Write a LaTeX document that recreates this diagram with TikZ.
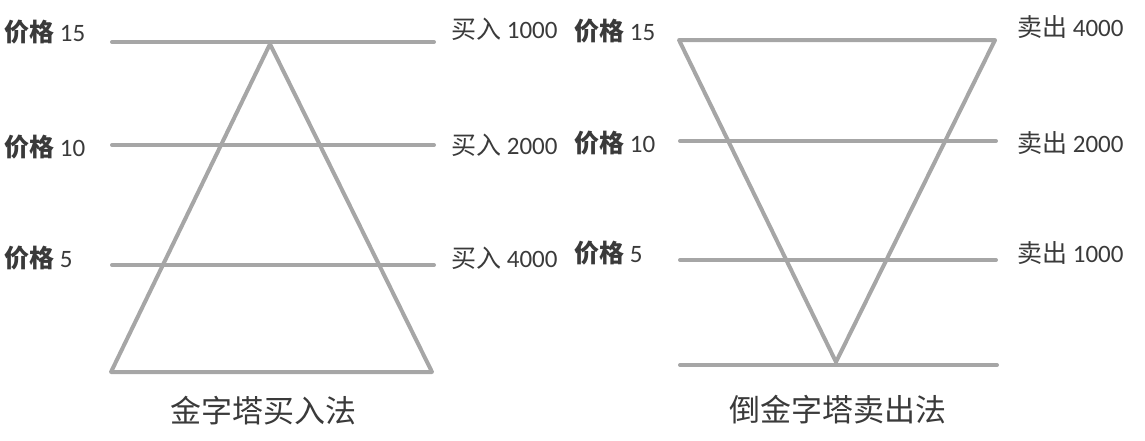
\documentclass[tikz,border=0pt]{standalone}
\usepackage{fontspec}
\setmainfont{Carlito}
\newfontfamily\cjk{Noto Sans CJK SC}
\definecolor{linegray}{RGB}{166,166,166}
\definecolor{txtgray}{RGB}{58,58,58}
\tikzset{
  bar/.style={draw=linegray, line width=4pt, line cap=round, line join=miter},
  lbl/.style={anchor=west, inner sep=0pt, text=txtgray, font=\fontsize{25}{28}\selectfont},
  captiontext/.style={anchor=center, inner sep=0pt, text=txtgray, font=\fontsize{31}{35}\selectfont\cjk},
}
\newcommand{\price}[1]{{\cjk\bfseries 价格}\ #1}
\newcommand{\buy}[1]{{\cjk 买入}\ #1}
\newcommand{\sell}[1]{{\cjk 卖出}\ #1}
\begin{document}
\begin{tikzpicture}[x=1pt,y=-1pt]
\useasboundingbox (0,0) rectangle (1145,440);
% left pyramid
\coordinate (LA) at (270,44);
\coordinate (LBL) at (111,372);
\coordinate (LBR) at (432,372);
\coordinate (L15a) at (112,42); \coordinate (L15b) at (434,42);
\coordinate (L10a) at (112,145); \coordinate (L10b) at (434,145);
\coordinate (L5a) at (112,265); \coordinate (L5b) at (434,265);
\draw[bar] (L15a) -- (L15b);
\draw[bar] (L10a) -- (L10b);
\draw[bar] (L5a) -- (L5b);
\draw[bar, line join=round] (LA) -- (LBR) -- (LBL) -- cycle;
\node[lbl] (lp15) at (4,32) {\price{15}};
\node[lbl] (lp10) at (4,147) {\price{10}};
\node[lbl] (lp5) at (4,258) {\price{5}};
\node[lbl] (lb1) at (451,29) {\buy{1000}};
\node[lbl] (lb2) at (451,145) {\buy{2000}};
\node[lbl] (lb3) at (451,258) {\buy{4000}};
\node[captiontext] (lcap) at (263,411) {金字塔买入法};
% right inverted pyramid
\coordinate (RTL) at (679,40);
\coordinate (RTR) at (995,40);
\coordinate (RA) at (836,362);
\coordinate (R10a) at (680,141); \coordinate (R10b) at (996,141);
\coordinate (R5a) at (680,260); \coordinate (R5b) at (996,260);
\coordinate (R0a) at (680,365); \coordinate (R0b) at (997,365);
\draw[bar] (R10a) -- (R10b);
\draw[bar] (R5a) -- (R5b);
\draw[bar] (R0a) -- (R0b);
\draw[bar, line join=round] (RTL) -- (RTR) -- (RA) -- cycle;
\node[lbl] (rp15) at (574,31) {\price{15}};
\node[lbl] (rp10) at (574,143) {\price{10}};
\node[lbl] (rp5) at (574,253) {\price{5}};
\node[lbl] (rs1) at (1017,27) {\sell{4000}};
\node[lbl] (rs2) at (1017,143) {\sell{2000}};
\node[lbl] (rs3) at (1017,253) {\sell{1000}};
\node[captiontext] (rcap) at (838,410) {倒金字塔卖出法};
\end{tikzpicture}
\end{document}
